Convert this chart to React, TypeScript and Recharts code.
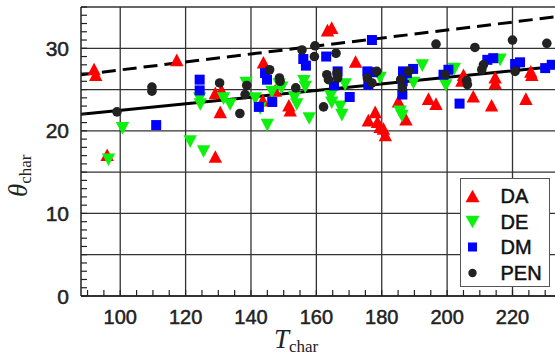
import React from 'react';
import { ScatterChart, Scatter, XAxis, YAxis, CartesianGrid, ReferenceLine, Legend, Label } from 'recharts';

// axis ticks / grid
const X_MINOR = [90, 95, 100, 105, 110, 115, 120, 125, 130, 135, 140, 145, 150, 155, 160, 165, 170, 175, 180, 185, 190, 195, 200, 205, 210, 215, 220, 225, 230];
const X_LABELS = [100, 120, 140, 160, 180, 200, 220];
const Y_MINOR = [0, 1, 2, 3, 4, 5, 6, 7, 8, 9, 10, 11, 12, 13, 14, 15, 16, 17, 18, 19, 20, 21, 22, 23, 24, 25, 26, 27, 28, 29, 30, 31, 32, 33, 34, 35];
const Y_GRID = [0, 5, 10, 15, 20, 25, 30, 35];
const Y_LABELS = [0, 10, 20, 30];

// DA
const daT = [92, 92.5, 96, 117.3, 129.1, 131, 130.6, 129.1, 143.8, 143.6, 147.4, 151.6, 152, 163.4, 164.7, 172, 175.9, 178, 178.7, 179.5, 180.5, 181.1, 185.1, 187.4, 194.3, 196.6, 204.5, 205, 208, 213.6, 214.7, 214.7, 224.1, 225.6, 225.9];
const daTheta = [27.5, 26.8, 17.1, 28.6, 24.6, 24.9, 22.3, 16.9, 28.3, 23.7, 24.9, 23.1, 22.5, 32.2, 32.5, 28.4, 21.3, 22.3, 21.1, 20.5, 20.3, 19.5, 23.6, 21.4, 23.9, 23.3, 26.1, 26.8, 24.2, 23.1, 26.5, 25.8, 23.9, 27.2, 26.8];

// DE
const deT = [96.4, 100.7, 121.4, 125.5, 124.3, 124.5, 131.6, 133.6, 138.5, 141.3, 142.8, 145, 146.4, 148.6, 149.4, 153.3, 154, 156.2, 156.6, 157.8, 164.4, 164.7, 167.3, 167.8, 168.8, 179.5, 185.6, 186.2, 189.7, 192.4, 199.6, 202.2, 216.2];
const deTheta = [16.5, 20.3, 18.7, 17.5, 23.9, 23.2, 23.9, 23.2, 25.8, 23.9, 22.7, 20.7, 24.7, 25.6, 25.2, 24.0, 23.2, 26.0, 25.3, 21.5, 24.2, 23.4, 22.9, 21.9, 25.6, 26.4, 22.3, 21.8, 25.8, 27.9, 25.5, 27.5, 28.6];

// DM
const dmT = [111, 124.3, 124.3, 142.4, 144.3, 144.9, 146.5, 156, 156.8, 163, 165.4, 166.5, 170.2, 175.6, 175.9, 177, 177.3, 186.5, 186.4, 186.3, 187.7, 189.6, 198.9, 200.4, 203.8, 212.3, 214.1, 220.8, 222.3, 230, 232];
const dmTheta = [20.7, 26.2, 24.9, 22.9, 27.0, 26.2, 23.5, 28.7, 27.9, 29.0, 25.5, 27.2, 24.1, 27.2, 25.6, 31.0, 27.1, 27.2, 26.0, 24.4, 27.0, 27.5, 26.8, 27.4, 23.3, 28.6, 28.8, 28.1, 28.3, 27.6, 28.0];

// PEN
const penT = [99, 109.7, 109.7, 130.4, 136.6, 138.7, 138.2, 145.7, 148.7, 148.9, 153.7, 155.6, 159.6, 159.4, 162.2, 163.2, 163.7, 166, 166.3, 166.5, 175.6, 177, 178.5, 185.8, 186.3, 188.2, 196.6, 199.4, 206, 206.2, 208.5, 210.6, 211.1, 220, 220.8, 230.5];
const penTheta = [22.3, 25.3, 24.8, 25.8, 22.1, 25.5, 24.4, 27.4, 26.4, 26.0, 25.2, 29.8, 30.3, 29.0, 22.9, 26.8, 26.2, 29.4, 27.0, 26.4, 26.4, 25.8, 27.2, 26.2, 25.2, 27.2, 30.5, 26.8, 26.1, 25.6, 30.1, 27.4, 28.0, 31.0, 27.2, 30.6];

// fit lines (end points)
const FIT_T = [88, 233];
const DASHED_THETA = [26.8, 33.8];
const SOLID_THETA = [22.0, 27.8];

const SANS = '"Liberation Sans", Arial, Helvetica, sans-serif';
const SERIF = '"Liberation Serif", "Times New Roman", serif';
const AXIS = '#222';
const X_MARGIN = 4;
const Y_MARGIN = 12;

const toPoints = (t: number[], th: number[]) => t.map((v, i) => ({ t: v, theta: th[i] }));

const upTri = (fill: string, cx: number, cy: number, w = 6.7, h = 6.3) => (
  <polygon points={`${cx - w},${cy + h} ${cx + w},${cy + h} ${cx},${cy - h}`} fill={fill} />
);
const downTri = (fill: string, cx: number, cy: number, w = 6.7, h = 6.3) => (
  <polygon points={`${cx - w},${cy - h} ${cx + w},${cy - h} ${cx},${cy + h}`} fill={fill} />
);
const square = (fill: string, cx: number, cy: number, s = 5) => (
  <rect x={cx - s} y={cy - s} width={s * 2} height={s * 2} fill={fill} />
);
const dot = (fill: string, cx: number, cy: number, r = 4.8) => <circle cx={cx} cy={cy} r={r} fill={fill} />;

const SERIES = [
  { name: 'DA', color: '#ff0000', data: toPoints(daT, daTheta), draw: upTri, legendSize: [7, 6.3] },
  { name: 'DE', color: '#10f010', data: toPoints(deT, deTheta), draw: downTri, legendSize: [7, 6.3] },
  { name: 'DM', color: '#0000ff', data: toPoints(dmT, dmTheta), draw: square, legendSize: [4.5] },
  { name: 'PEN', color: '#222222', data: toPoints(penT, penTheta), draw: dot, legendSize: [4.2] },
];

const XTick = (props: any) => {
  const { x, y, payload } = props;
  const axisY = y - X_MARGIN;
  const v = payload.value;
  return (
    <g>
      <line x1={x} x2={x} y1={axisY} y2={axisY - 6} stroke={AXIS} strokeWidth={1.2} />
      {X_LABELS.includes(v) && (
        <text x={x} y={axisY + 27.5} textAnchor="middle" fontSize={20} fill="#222" stroke="#222" strokeWidth={0.5} fontFamily={SANS}>
          {v}
        </text>
      )}
    </g>
  );
};

const YTick = (props: any) => {
  const { x, y, payload } = props;
  const axisX = x + Y_MARGIN;
  const v = payload.value;
  return (
    <g>
      <line x1={axisX} x2={axisX + 6} y1={y} y2={y} stroke={AXIS} strokeWidth={1.2} />
      {Y_LABELS.includes(v) && (
        <text x={x} y={y + 7.5} textAnchor="end" fontSize={21} fill="#222" stroke="#222" strokeWidth={0.5} fontFamily={SANS}>
          {v}
        </text>
      )}
    </g>
  );
};

const LegendBox = () => (
  <div
    style={{
      width: 90,
      height: 109,
      boxSizing: 'border-box',
      border: '1.5px solid #555',
      background: '#fff',
      paddingTop: 4,
    }}
  >
    {SERIES.map((s) => (
      <div key={s.name} style={{ display: 'flex', alignItems: 'center', height: 25.8 }}>
        <svg width={23} height={18} style={{ display: 'block' }}>
          {(s.draw as any)(s.color, 11.5, 9, ...s.legendSize)}
        </svg>
        <span
          style={{
            marginLeft: 16.5,
            fontFamily: SANS,
            fontSize: 20,
            color: '#111',
            lineHeight: '20px',
            WebkitTextStroke: '0.5px #111',
          }}
        >
          {s.name}
        </span>
      </div>
    ))}
  </div>
);

export default function App() {
  return (
    <div style={{ position: 'absolute', left: 0, top: 0, width: 555, height: 356, background: '#fff' }}>
      <ScatterChart width={555} height={356} margin={{ top: 7, right: 0, bottom: 0, left: 0 }}>
        <CartesianGrid
          horizontalValues={Y_GRID}
          verticalValues={X_LABELS}
          stroke="#333"
          strokeWidth={1.3}
        />
        <XAxis
          type="number"
          dataKey="t"
          domain={[88, 233]}
          allowDataOverflow
          ticks={X_MINOR}
          interval={0}
          tick={XTick}
          tickLine={false}
          tickSize={0}
          tickMargin={X_MARGIN}
          height={60}
          axisLine={{ stroke: AXIS, strokeWidth: 1.5 }}
        >
          <Label
            content={() => (
              <text x={274} y={348} fontFamily={SERIF} fill="#222">
                <tspan fontSize={27} fontStyle="italic">T</tspan>
                <tspan fontSize={17} dy={4}>char</tspan>
              </text>
            )}
          />
        </XAxis>
        <XAxis
          xAxisId="top"
          orientation="top"
          type="number"
          dataKey="t"
          domain={[88, 233]}
          allowDataOverflow
          ticks={X_MINOR}
          interval={0}
          tick={false}
          mirror
          tickSize={6}
          height={0}
          tickLine={{ stroke: AXIS, strokeWidth: 1.2 }}
          axisLine={{ stroke: AXIS, strokeWidth: 1.5 }}
        />
        <YAxis
          type="number"
          dataKey="theta"
          domain={[0, 35]}
          allowDataOverflow
          ticks={Y_MINOR}
          interval={0}
          tick={YTick}
          tickLine={false}
          tickSize={0}
          tickMargin={Y_MARGIN}
          width={81}
          axisLine={{ stroke: AXIS, strokeWidth: 1.5 }}
        >
          <Label
            content={() => (
              <text x={0} y={0} transform="translate(27,197) rotate(-90)" fontFamily={SERIF} fill="#222">
                <tspan fontSize={27} fontStyle="italic">θ</tspan>
                <tspan fontSize={17} dy={4}>char</tspan>
              </text>
            )}
          />
        </YAxis>
        {SERIES.map((s) => (
          <Scatter
            key={s.name}
            name={s.name}
            data={s.data}
            fill={s.color}
            isAnimationActive={false}
            shape={(p: any) => s.draw(s.color, p.cx, p.cy)}
          />
        ))}
        <ReferenceLine
          segment={[
            { x: FIT_T[0], y: DASHED_THETA[0] },
            { x: FIT_T[1], y: DASHED_THETA[1] },
          ]}
          stroke="#000"
          strokeWidth={3}
          strokeDasharray="14 7"
        />
        <ReferenceLine
          segment={[
            { x: FIT_T[0], y: SOLID_THETA[0] },
            { x: FIT_T[1], y: SOLID_THETA[1] },
          ]}
          stroke="#000"
          strokeWidth={3}
        />
        <Legend
          layout="vertical"
          align="center"
          verticalAlign="middle"
          content={LegendBox}
          wrapperStyle={{ left: 460, top: 178, width: 90, height: 109 }}
        />
      </ScatterChart>
    </div>
  );
}
